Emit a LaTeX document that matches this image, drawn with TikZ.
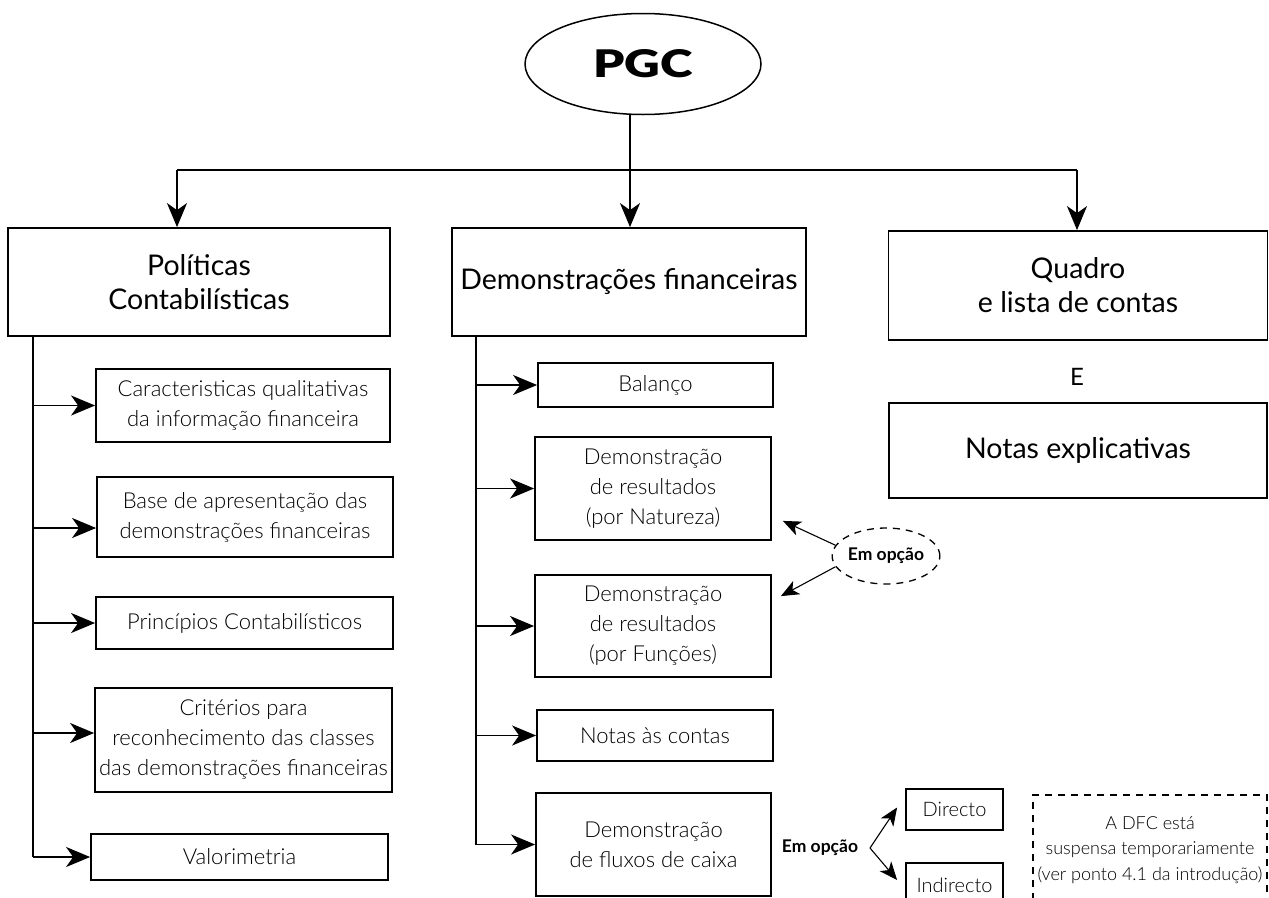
\documentclass[tikz,border=0pt]{standalone}
\usepackage{fontspec}
\setmainfont{Lato}
\newfontfamily\lightfont{Lato Light}
\newfontfamily\heavyfont{Lato Black}
\usetikzlibrary{arrows.meta,shapes.geometric}
\begin{document}
\begin{tikzpicture}[x=1pt,y=-1pt,
  box/.style={draw, line width=1.8pt, align=center, inner sep=0pt,
    font=\lightfont\fontsize{22}{30}\selectfont},
  head/.style={box, font=\fontsize{28.5}{34}\selectfont},
  wire/.style={line width=1.7pt},
  arr/.style={wire, -{Stealth[length=24pt,width=20pt,inset=7pt]}},
  optarr/.style={line width=1.1pt, -{Stealth[length=18pt,width=15pt,inset=5pt]}},
  dashline/.style={line width=1.3pt, dash pattern=on 7pt off 6pt}]
\useasboundingbox (0,0) rectangle (1269,897);
\fill[white] (0,0) rectangle (1269,897);

% root
\node[ellipse, draw, line width=1.5pt, minimum width=236pt, minimum height=101pt,
  inner sep=0pt, font=\heavyfont\fontsize{38}{44}\selectfont] (pgc) at (643,64)
  {\scalebox{1.3}[1]{PGC}};

% three main branches
\node[head, minimum width=382pt, minimum height=108pt] (pol) at (199,282)
  {Políticas\\Contabilísticas};
\node[head, minimum width=354pt, minimum height=108pt] (dem) at (629,282)
  {Demonstrações financeiras};
\node[head, minimum width=379pt, minimum height=109pt] (qua) at (1078,285.5)
  {Quadro\\e lista de contas};
\node[font=\fontsize{24}{28}\selectfont] (e) at (1077,377) {E};
\node[head, minimum width=378pt, minimum height=95pt] (notes) at (1078,450.5)
  {Notas explicativas};

\coordinate (hub) at (630,170);
\coordinate (hubL) at (177,170);
\coordinate (hubR) at (1077,170);
\draw[wire] (hub |- pgc.south) -- (hub);
\draw[wire] (hubL) -- (hubR);
\draw[arr] (hubL) -- (hubL |- pol.north);
\draw[arr] (hub) -- (hub |- dem.north);
\draw[arr] (hubR) -- (hubR |- qua.north);

% accounting policies
\node[box, minimum width=294pt, minimum height=73pt] (car) at (243,405.5)
  {Caracteristicas qualitativas\\da informação financeira};
\node[box, minimum width=296pt, minimum height=80pt] (base) at (245,517)
  {Base de apresentação das\\demonstrações financeiras};
\node[box, minimum width=297pt, minimum height=52pt] (princ) at (244.5,623)
  {Princípios Contabilísticos};
\node[box, minimum width=297pt, minimum height=104pt] (crit) at (243.5,740)
  {Critérios para\\reconhecimento das classes\\das demonstrações financeiras};
\node[box, minimum width=297pt, minimum height=46pt] (valor) at (239.5,857)
  {Valorimetria};

\coordinate (baseIn) at ([yshift=-11pt]base.west);
\coordinate (critIn) at ([yshift=7pt]crit.west);
\coordinate (sL) at (33,336);
\draw[wire] (sL |- pol.south) -- (sL |- valor.west);
\draw[arr] (sL |- car.west) -- (car.west);
\draw[arr] (sL |- baseIn) -- (baseIn);
\draw[arr] (sL |- princ.west) -- (princ.west);
\draw[arr] (sL |- critIn) -- (critIn);
\draw[arr] (sL |- valor.west) -- (valor.west);

% financial statements
\node[box, minimum width=235pt, minimum height=44pt] (bal) at (655.5,385)
  {Balanço};
\node[box, minimum width=236pt, minimum height=103pt] (nat) at (653,488.5)
  {Demonstração\\de resultados\\(por Natureza)};
\node[box, minimum width=236pt, minimum height=102pt] (fun) at (653,626)
  {Demonstração\\de resultados\\(por Funções)};
\node[box, minimum width=236pt, minimum height=51pt] (nac) at (655,735.5)
  {Notas às contas};
\node[box, minimum width=235pt, minimum height=103pt] (flux) at (653.5,844.5)
  {Demonstração\\de fluxos de caixa};

\coordinate (sM) at (476,336);
\draw[wire] (sM |- dem.south) -- (sM |- flux.west);
\draw[arr] (sM |- bal.west) -- (bal.west);
\draw[arr] (sM |- nat.west) -- (nat.west);
\draw[arr] (sM |- fun.west) -- (fun.west);
\draw[arr] (sM |- nac.west) -- (nac.west);
\draw[arr] (sM |- flux.west) -- (flux.west);

% alternative income statements
\node[ellipse, draw, dashline, minimum width=104pt, minimum height=56pt,
  inner sep=0pt, font=\bfseries\fontsize{17.5}{20}\selectfont] (opt) at (886,556)
  {Em opção};
\draw[optarr] (opt.168) -- ([shift={(11,-20)}]nat.south east);
\draw[optarr] (opt.192) -- ([shift={(9,22)}]fun.north east);

% cash flow methods
\node[font=\bfseries\fontsize{17.5}{20}\selectfont] (cfopt) at (820,848) {Em opção};
\node[box, font=\lightfont\fontsize{20}{24}\selectfont, minimum width=97pt,
  minimum height=41pt] (dir) at (954.5,809.5) {Directo};
\node[box, font=\lightfont\fontsize{20}{24}\selectfont, minimum width=97pt,
  minimum height=44pt] (ind) at (954.5,885) {Indirecto};
\coordinate (br) at (870,848);
\draw[optarr] (br) -- ([xshift=-8pt,yshift=2pt]dir.west);
\draw[optarr] (br) -- ([xshift=-8pt,yshift=5pt]ind.west);

\node[draw, dashline, minimum width=234pt, minimum height=110pt, align=center,
  inner sep=0pt, font=\lightfont\fontsize{18}{25.5}\selectfont] (dfc) at (1150,850)
  {A DFC está\\suspensa temporariamente\\(ver ponto 4.1 da introdução)};
\end{tikzpicture}
\end{document}
